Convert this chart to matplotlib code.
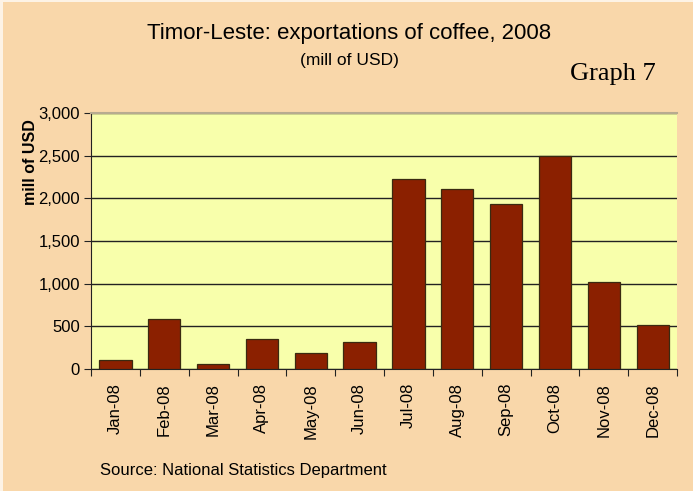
import matplotlib.pyplot as plt
from matplotlib.ticker import FuncFormatter
from matplotlib.patches import Rectangle

plt.rcParams['font.family'] = ['Liberation Sans', 'DejaVu Sans']

months = ['Jan-08', 'Feb-08', 'Mar-08', 'Apr-08', 'May-08', 'Jun-08',
          'Jul-08', 'Aug-08', 'Sep-08', 'Oct-08', 'Nov-08', 'Dec-08']
exports = [105, 582, 55, 348, 188, 313, 2227, 2107, 1930, 2500, 1020, 512]

fig = plt.figure(figsize=(6.93, 4.91), dpi=100)
fig.patch.set_facecolor('#F9D7AA')
# thin light frame at left and top edges
fig.patches.append(Rectangle((0, 0), 3 / 693, 1, transform=fig.transFigure,
                             facecolor='#FDF3E6', edgecolor='none'))
fig.patches.append(Rectangle((0, 1 - 2 / 491), 1, 2 / 491, transform=fig.transFigure,
                             facecolor='#FDF3E6', edgecolor='none'))

ax = fig.add_axes([0.1313, 0.2485, 0.8457, 0.5214])
ax.set_facecolor('#F8FFAB')

x = range(len(months))
ax.bar(x, exports, width=0.66, color='#8B2000', edgecolor='#3a2a10', linewidth=0.9, zorder=3)

ax.set_xlim(-0.5, len(months) - 0.5)
ax.set_ylim(0, 3000)
ax.set_yticks(range(0, 3001, 500))
ax.yaxis.set_major_formatter(FuncFormatter(lambda v, p: f'{int(v):,}'))
ax.grid(axis='y', color='#222222', linewidth=1.0, zorder=1)
ax.set_xticks([i - 0.5 for i in range(len(months) + 1)], minor=False)
ax.set_xticklabels([''] * (len(months) + 1))
ax.set_xticks(list(x), minor=True)
ax.set_xticklabels(months, minor=True, rotation=90, fontsize=12)
ax.tick_params(axis='x', which='minor', length=0, pad=10)
ax.tick_params(axis='x', which='major', length=5, direction='out', color='#222222')
ax.tick_params(axis='y', length=5, direction='out', labelsize=12, color='#222222', pad=3)

ax.spines['top'].set_color('#b8ab90')
ax.spines['top'].set_linewidth(1.5)
ax.spines['right'].set_visible(False)
ax.spines['left'].set_color('#222222')
ax.spines['bottom'].set_color('#222222')

ax.set_ylabel('mill of USD', fontsize=11.5, fontweight='bold', va='center')
ax.yaxis.set_label_coords(-0.104, 0.81)

fig.text(0.504, 0.932, 'Timor-Leste: exportations of coffee, 2008', ha='center', va='center', fontsize=16)
fig.text(0.504, 0.876, '(mill of USD)', ha='center', va='center', fontsize=12.5)
fig.text(0.885, 0.849, 'Graph 7', ha='center', va='center', fontsize=19, family='Liberation Serif')
fig.text(0.145, 0.041, 'Source: National Statistics Department', ha='left', va='center', fontsize=12)

fig.savefig('out.png', dpi=100, facecolor=fig.get_facecolor())
